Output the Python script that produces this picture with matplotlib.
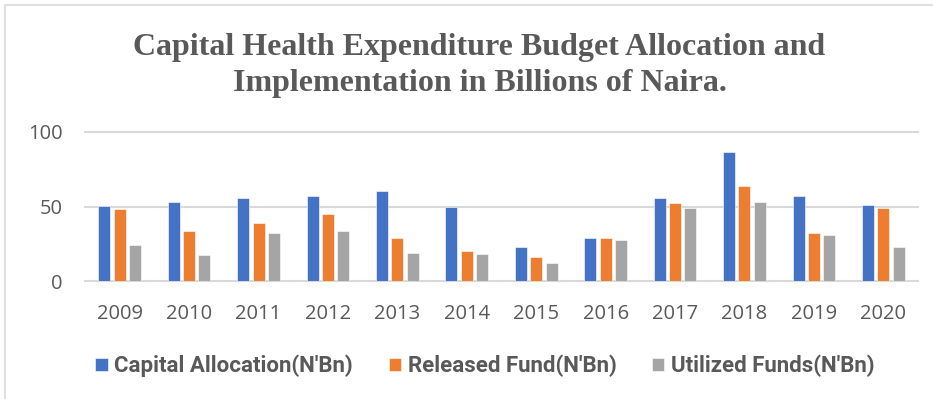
import matplotlib
matplotlib.use("Agg")
import matplotlib.pyplot as plt
from matplotlib.patches import Rectangle
import numpy as np

years = ["2009", "2010", "2011", "2012", "2013", "2014", "2015", "2016", "2017", "2018", "2019", "2020"]
capital_allocation = [50.5, 53.0, 55.4, 56.8, 60.1, 49.4, 22.7, 28.7, 55.4, 86.2, 57.0, 51.2]
released_fund = [48.3, 33.6, 38.7, 44.8, 28.9, 20.4, 16.4, 28.7, 52.5, 63.5, 32.0, 49.2]
utilized_funds = [24.4, 17.6, 32.0, 33.4, 18.9, 18.4, 12.0, 27.6, 48.8, 53.0, 30.7, 22.9]
series_names = ["Capital Allocation(N'Bn)", "Released Fund(N'Bn)", "Utilized Funds(N'Bn)"]
colors = ["#4472C4", "#ED7D31", "#A5A5A5"]
yticks = [0, 50, 100]

W, H = 933, 399
fig = plt.figure(figsize=(W / 100, H / 100), dpi=100)
fig.patch.set_facecolor("white")

# outer chart border
fig.patches.append(Rectangle((5 / W, -0.2), 1.2, 1 - 5 / H + 0.2, transform=fig.transFigure,
                             fill=False, edgecolor="#D9D9D9", linewidth=1.2))

ax = fig.add_axes([85 / W, 1 - 281.3 / H, (918 - 85) / W, (281.3 - 131.7) / H])
x = np.arange(len(years))
width = 0.173
pitch = 0.221
for i, (vals, name, c) in enumerate(zip([capital_allocation, released_fund, utilized_funds], series_names, colors)):
    ax.bar(x + (i - 1) * pitch, vals, width=width, color=c, label=name, zorder=3,
           edgecolor="white", linewidth=0.4)

ax.set_xlim(-0.5, len(years) - 0.5)
ax.set_ylim(0, 100)
ax.set_yticks(yticks)
ax.set_xticks(x)
ax.set_xticklabels(years)
for s in ax.spines.values():
    s.set_visible(False)
ax.grid(axis="y", color="#D9D9D9", linewidth=1.5, zorder=0)
for gl in ax.get_ygridlines():
    gl.set_clip_on(False)
ax.tick_params(axis="both", length=0, colors="#595959", labelsize=14.5)
ax.tick_params(axis="y", pad=16)
ax.tick_params(axis="x", pad=16)
for lab in ax.get_xticklabels() + ax.get_yticklabels():
    lab.set_fontfamily("Open Sans")
    lab.set_color("#595959")

fig.text(479.5 / W, 1 - 47 / H, "Capital Health Expenditure Budget Allocation and",
         ha="center", va="center", fontsize=23, fontweight="bold",
         family="Liberation Serif", color="#595959")
fig.text(479.5 / W, 1 - 84 / H, "Implementation in Billions of Naira.",
         ha="center", va="center", fontsize=23, fontweight="bold",
         family="Liberation Serif", color="#595959")

leg = fig.legend(loc="center", bbox_to_anchor=(485 / W, 1 - 366 / H), ncol=3, frameon=False,
                 prop={"family": "Roboto", "weight": "bold", "size": 16},
                 handlelength=0.55, handleheight=0.55, handletextpad=0.3, columnspacing=1.6)
for t in leg.get_texts():
    t.set_color("#595959")

fig.savefig("out.png", dpi=100, facecolor="white")
